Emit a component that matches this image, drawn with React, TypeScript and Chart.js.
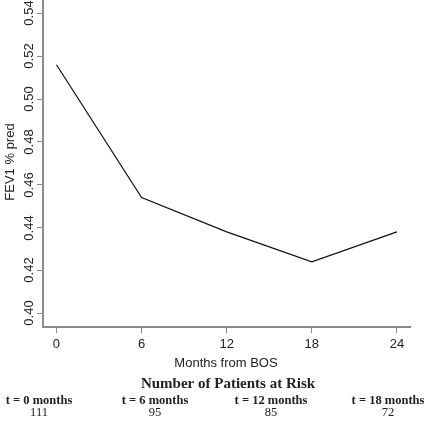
import React, { useEffect, useRef, useState } from "react";
import { Chart, registerables } from "chart.js";

Chart.register(...registerables);

// ---- data ----
const months = [0, 6, 12, 18, 24];
const fev1 = [0.516, 0.454, 0.438, 0.424, 0.438];
const xTicks = [0, 6, 12, 18, 24];
const yTicks = [0.4, 0.42, 0.44, 0.46, 0.48, 0.5, 0.52, 0.54];
const riskTimes = ["t = 0 months", "t = 6 months", "t = 12 months", "t = 18 months"];
const riskCounts = ["111", "95", "85", "72"];

const xTitle = "Months from BOS";
const yTitle = "FEV1 % pred";
const riskTitle = "Number of Patients at Risk";

const SANS = "'Liberation Sans', Arial, Helvetica, sans-serif";
const SERIF = "'Liberation Serif', 'Times New Roman', Times, serif";
const TEXT = "#222";
const AXIS = "#8a8a8a";

const textPlugin = {
  id: "extraText",
  afterDraw(chart: any) {
    const ctx = chart.ctx as CanvasRenderingContext2D;
    ctx.save();
    ctx.fillStyle = TEXT;
    ctx.textAlign = "center";
    ctx.textBaseline = "middle";
    ctx.font = `13px ${SANS}`;
    ctx.fillText(xTitle, 226, 363);
    ctx.font = `bold 15px ${SERIF}`;
    ctx.fillText(riskTitle, 228, 384);
    const cols = [39, 155, 271, 388];
    riskTimes.forEach((t, i) => {
      ctx.font = `bold 12.5px ${SERIF}`;
      ctx.fillText(t, cols[i], 401);
      ctx.font = `12.5px ${SERIF}`;
      ctx.fillText(riskCounts[i], cols[i], 413);
    });
    ctx.restore();
  },
};

const rotStyle = (left: number, top: number): React.CSSProperties => ({
  position: "absolute",
  left,
  top,
  transform: "translate(-50%, -50%) rotate(-90deg)",
  font: `13px ${SANS}`,
  color: TEXT,
  whiteSpace: "nowrap",
  lineHeight: "13px",
});

export default function App() {
  const ref = useRef<HTMLCanvasElement | null>(null);
  const [yPix, setYPix] = useState<number[]>([]);
  useEffect(() => {
    if (!ref.current) return;
    const chart = new Chart(ref.current, {
      type: "line",
      data: {
        datasets: [
          {
            data: months.map((m, i) => ({ x: m, y: fev1[i] })),
            borderColor: "#111",
            borderWidth: 1.2,
            pointRadius: 0,
            tension: 0,
            fill: false,
          },
        ],
      },
      options: {
        responsive: false,
        animation: false,
        events: [],
        layout: { padding: { left: 0, right: 15, top: 0, bottom: 0 } },
        plugins: { legend: { display: false }, tooltip: { enabled: false } },
        scales: {
          x: {
            type: "linear",
            min: -0.95,
            max: 24.92,
            afterBuildTicks: (s: any) => {
              s.ticks = xTicks.map((v) => ({ value: v }));
            },
            afterFit: (s: any) => {
              s.height = 96;
            },
            ticks: {
              font: { family: SANS, size: 13 },
              color: TEXT,
              padding: 4,
              maxRotation: 0,
              autoSkip: false,
            },
            grid: {
              drawOnChartArea: false,
              drawTicks: true,
              tickLength: 6,
              color: AXIS,
              lineWidth: 1,
            },
            border: { display: true, color: AXIS, width: 2 },
          },
          y: {
            type: "linear",
            min: 0.3936,
            max: 0.5462,
            afterBuildTicks: (s: any) => {
              s.ticks = yTicks.map((v) => ({ value: v }));
            },
            afterFit: (s: any) => {
              s.width = 43;
            },
            ticks: { display: false },
            grid: {
              drawOnChartArea: false,
              drawTicks: true,
              tickLength: 6,
              color: AXIS,
              lineWidth: 1,
            },
            border: { display: true, color: AXIS, width: 2 },
          },
        },
      },
      plugins: [textPlugin],
    } as any);
    const ys = (chart as any).scales.y;
    setYPix(yTicks.map((v) => ys.getPixelForValue(v)));
    return () => chart.destroy();
  }, []);
  return (
    <div style={{ position: "absolute", left: 0, top: 0, width: 425, height: 423, background: "#fff" }}>
      <canvas ref={ref} width={425} height={423} style={{ display: "block" }} />
      {yPix.map((py, i) => (
        <div key={i} style={rotStyle(28, py)}>
          {yTicks[i].toFixed(2)}
        </div>
      ))}
      <div style={rotStyle(9, 162)}>{yTitle}</div>
    </div>
  );
}
